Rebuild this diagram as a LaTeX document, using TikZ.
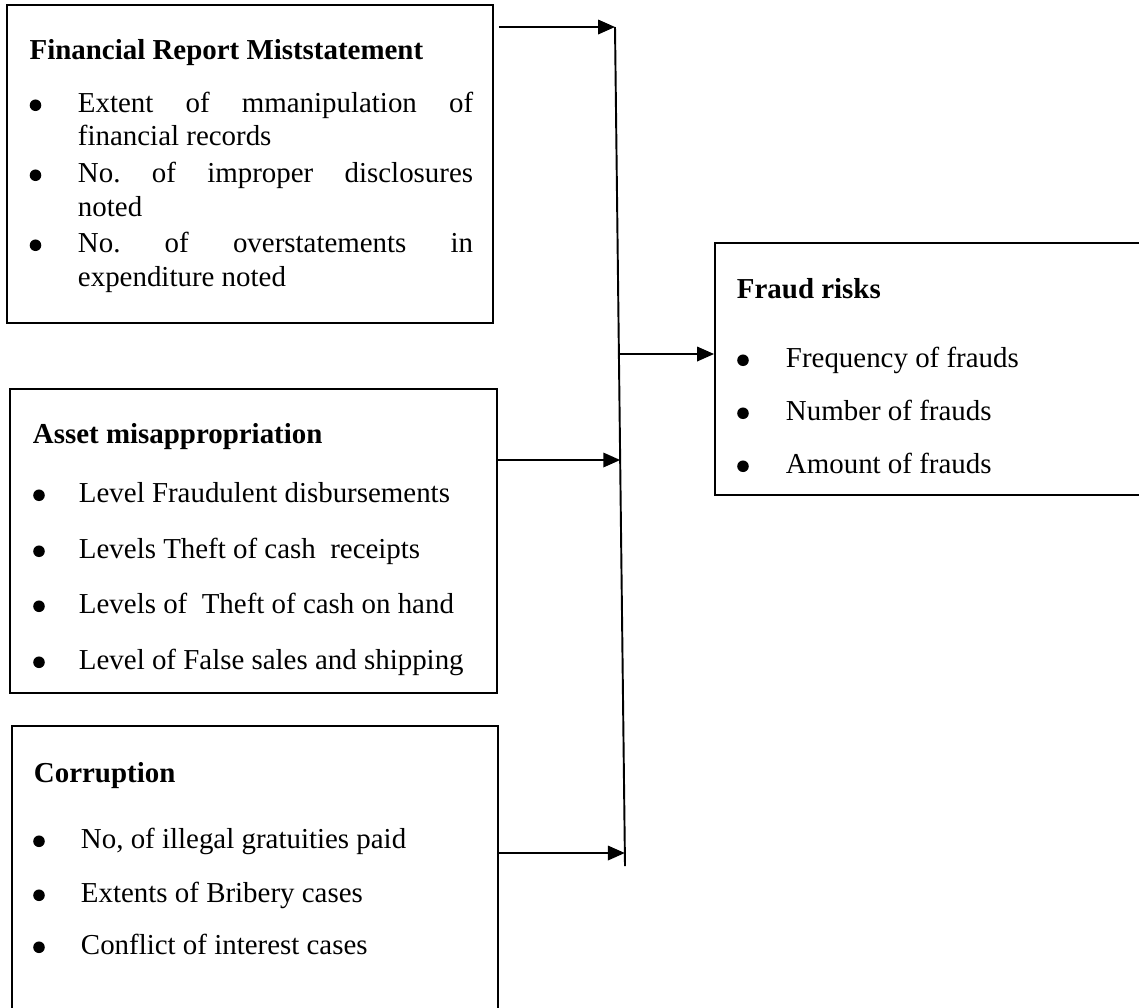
\documentclass[tikz,border=0pt]{standalone}
\usepackage{fontspec}
\setmainfont{Liberation Serif}
\usetikzlibrary{arrows.meta,fit}
\frenchspacing

\begin{document}
\begin{tikzpicture}[x=0.415pt,y=-0.415pt,>={Triangle[length=7pt,width=6pt]},
    line width=0.8pt,font=\fontsize{12}{13.8}\selectfont,
    box/.style={draw=black,rectangle,inner sep=0pt},
    head/.style={anchor=base west,inner sep=0pt,font=\fontsize{12}{13.8}\selectfont\bfseries},
    txt/.style={anchor=base west,inner sep=0pt},
    dot/.style={circle,fill=black,inner sep=0pt,minimum size=4.8pt,yshift=2.8pt}]
        \useasboundingbox (0,0) rectangle (1139,1007);

        \node[box,fit={(7,5) (493,323)}] (fin) {};
        \node[box,fit={(10,389) (497,693)}] (asset) {};
        \node[box,fit={(12,726) (498,1015)}] (corr) {};
        \node[box,fit={(715,243) (1150,495)}] (fraud) {};

        \node[head] (finH) at (28.7,59) {Financial Report Miststatement};
        \node[dot] (finD1) at (35.5,112) {};
        \node[txt] (finT1) at (77,112) {\makebox[164pt][s]{Extent of mmanipulation of}};
        \node[txt] (finT1b) at (77,145) {financial records};
        \node[dot] (finD2) at (35.5,182) {};
        \node[txt] (finT2) at (77,182) {\makebox[164pt][s]{No. of improper disclosures}};
        \node[txt] (finT2b) at (77,216) {noted};
        \node[dot] (finD3) at (35.5,252) {};
        \node[txt] (finT3) at (77,252) {\makebox[164pt][s]{No. of overstatements in}};
        \node[txt] (finT3b) at (77,286) {expenditure noted};

        \node[head] (assetH) at (32,443) {Asset misappropriation};
        \node[dot] (assetD1) at (39,502) {};
        \node[txt] (assetT1) at (78,502) {Level Fraudulent disbursements};
        \node[dot] (assetD2) at (39,558) {};
        \node[txt] (assetT2) at (78,558) {Levels Theft of cash\ \ receipts};
        \node[dot] (assetD3) at (39,613) {};
        \node[txt] (assetT3) at (78,613) {Levels of\ \ Theft of cash on hand};
        \node[dot] (assetD4) at (39,669) {};
        \node[txt] (assetT4) at (78,669) {Level of False sales and shipping};

        \node[head] (corrH) at (33,782) {Corruption};
        \node[dot] (corrD1) at (39,848) {};
        \node[txt] (corrT1) at (80,848) {No, of illegal gratuities paid};
        \node[dot] (corrD2) at (39,902) {};
        \node[txt] (corrT2) at (80,902) {Extents of Bribery cases};
        \node[dot] (corrD3) at (39,954) {};
        \node[txt] (corrT3) at (80,954) {Conflict of interest cases};

        \node[head] (fraudH) at (736,298) {Fraud risks};
        \node[dot] (fraudD1) at (743,367) {};
        \node[txt] (fraudT1) at (785,367) {Frequency of frauds};
        \node[dot] (fraudD2) at (743,420) {};
        \node[txt] (fraudT2) at (785,420) {Number of frauds};
        \node[dot] (fraudD3) at (743,473) {};
        \node[txt] (fraudT3) at (785,473) {Amount of frauds};

        \coordinate (top) at (615,27);
        \coordinate (bot) at (625,866);
        \coordinate (in2) at (620.2,460);
        \coordinate (in3) at (624.8,853);
        \coordinate (out) at (618.2,354);

        \draw (top) -- (bot);
        \draw[->,shorten <=2pt] (fin.east |- top) -- (top);
        \draw[->] (asset.east |- in2) -- (in2);
        \draw[->] (corr.east |- in3) -- (in3);
        \draw[->] (out) -- (out -| fraud.west);
  \end{tikzpicture}
\end{document}
